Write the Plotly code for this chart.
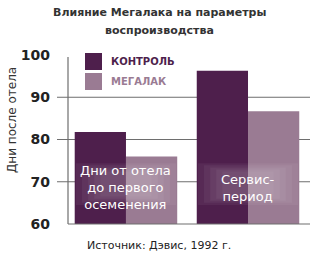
import plotly.graph_objects as go

categories = ["Дни от отела<br>до первого<br>осеменения", "Сервис-<br>период"]
control = [81.8, 96.3]
megalak = [76.0, 86.7]
series_names = ["КОНТРОЛЬ", "МЕГАЛАК"]
y_ticks = [60, 70, 80, 90, 100]

C_DARK = "#4e1f4c"
C_LIGHT = "#9a7b93"
FONT = "'DejaVu Sans', sans-serif"

# plot area in pixels: x 68..310, y 55..224
PL, PR, PT, PB = 68, 310, 55, 224
def px(x):
    return (x - PL) / (PR - PL)
def py(y):
    return (PB - y) / (PB - PT)

xs = list(range(len(categories)))
fig = go.Figure()
fig.add_trace(go.Bar(x=xs, y=control, name=series_names[0], marker=dict(color=C_DARK, line=dict(width=0)), showlegend=False))
fig.add_trace(go.Bar(x=xs, y=megalak, name=series_names[1], marker=dict(color=C_LIGHT, line=dict(width=0)), showlegend=False))

shapes = []
annotations = []
for v in y_ticks[1:-1]:
    shapes.append(dict(type="line", xref="paper", yref="y", x0=px(57), x1=1, y0=v, y1=v,
                       line=dict(color="#6e6e6e", width=1), layer="below"))
shapes.append(dict(type="line", xref="paper", yref="paper", x0=0, x1=0, y0=0, y1=py(57),
                   line=dict(color="#6e6e6e", width=1.2)))
shapes.append(dict(type="line", xref="paper", yref="paper", x0=0, x1=1, y0=0, y1=0,
                   line=dict(color="#6e6e6e", width=1.2)))

for i, cat in enumerate(categories):
    y0, y1 = 64.5, 74.4
    for k, op in enumerate([0.05, 0.05, 0.05, 0.05, 0.04]):
        dx = 0.41 - k * 0.05
        dy = k * 0.5
        shapes.append(dict(type="rect", xref="x", yref="y", x0=i - dx, x1=i + dx,
                           y0=y0 + dy, y1=y1 - dy, fillcolor=f"rgba(255,255,255,{op})",
                           line=dict(width=0), layer="above"))
    annotations.append(dict(x=i, y=68.6, xref="x", yref="y", text=cat, showarrow=False,
                            font=dict(family=FONT, size=13, color="white"),
                            align="center", yanchor="middle"))

for j, (nm, col) in enumerate(zip(series_names, [C_DARK, C_LIGHT])):
    ytop = 53 + j * 20
    shapes.append(dict(type="rect", xref="paper", yref="paper",
                       x0=px(85), x1=px(102), y0=py(ytop + 17), y1=py(ytop),
                       fillcolor=col, line=dict(width=0)))
    annotations.append(dict(x=px(109), y=py(ytop + 8.5), xref="paper", yref="paper",
                            text=nm, showarrow=False, xanchor="left", yanchor="middle",
                            font=dict(family=FONT, size=10, color=col, weight="bold")))

annotations.append(dict(x=px(159), y=py(245), xref="paper", yref="paper",
                        xanchor="center", yanchor="middle", showarrow=False,
                        text="Источник: Дэвис, 1992 г.",
                        font=dict(family=FONT, size=11, color="#222")))
annotations.append(dict(x=px(159), y=py(12), xref="paper", yref="paper",
                        xanchor="center", yanchor="middle", showarrow=False,
                        text="Влияние Мегалака на параметры",
                        font=dict(family=FONT, size=11, color="#333", weight="bold")))
annotations.append(dict(x=px(159), y=py(31), xref="paper", yref="paper",
                        xanchor="center", yanchor="middle", showarrow=False,
                        text="воспроизводства",
                        font=dict(family=FONT, size=11, color="#333", weight="bold")))
annotations.append(dict(x=px(12), y=py(120), xref="paper", yref="paper",
                        xanchor="center", yanchor="middle", showarrow=False, textangle=-90,
                        text="Дни после отела",
                        font=dict(family=FONT, size=12, color="#333")))

fig.update_layout(
    width=318, height=256,
    margin=dict(l=PL, r=318 - PR, t=PT, b=256 - PB),
    paper_bgcolor="white", plot_bgcolor="white",
    barmode="group", bargap=0.16, bargroupgap=0,
    xaxis=dict(range=[-0.475, 1.508], showticklabels=False, showgrid=False, zeroline=False,
               showline=False, ticks=""),
    yaxis=dict(range=[60, 100], tickvals=y_ticks, showgrid=False, zeroline=False, showline=False,
               ticks="", ticklabelstandoff=17,
               tickfont=dict(family=FONT, size=14, color="#222", weight="bold")),
    shapes=shapes, annotations=annotations,
)
fig.write_html("out.html")
